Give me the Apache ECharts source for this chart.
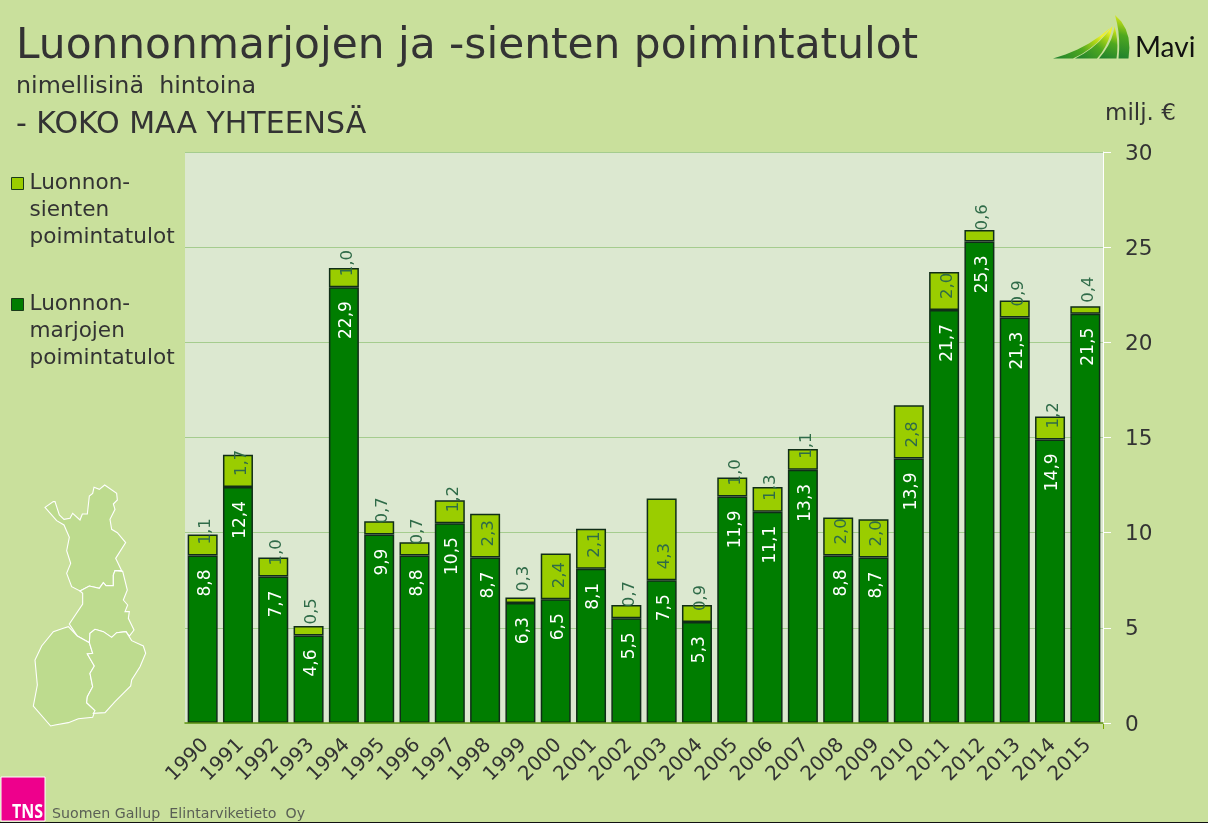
<!DOCTYPE html>
<html><head><meta charset="utf-8">
<style>html,body{margin:0;padding:0;background:#c9e09c}#c{width:1208px;height:823px}</style>
<script src="https://cdn.jsdelivr.net/npm/echarts@6/dist/echarts.min.js"></script>
</head><body><div id="c"></div>
<script>
const years = ['1990','1991','1992','1993','1994','1995','1996','1997','1998','1999','2000','2001','2002','2003','2004','2005','2006','2007','2008','2009','2010','2011','2012','2013','2014','2015'];
const berries = [8.8,12.4,7.7,4.6,22.9,9.9,8.8,10.5,8.7,6.3,6.5,8.1,5.5,7.5,5.3,11.9,11.1,13.3,8.8,8.7,13.9,21.7,25.3,21.3,14.9,21.5];
const mushrooms = [1.1,1.7,1.0,0.5,1.0,0.7,0.7,1.2,2.3,0.3,2.4,2.1,0.7,4.3,0.9,1.0,1.3,1.1,2.0,2.0,2.8,2.0,0.6,0.9,1.2,0.4];
const berryName = 'Luonnon-\nmarjojen\npoimintatulot';
const mushroomName = 'Luonnon-\nsienten\npoimintatulot';

const FONT = '"DejaVu Sans", Verdana, sans-serif';
const fmt = p => p.value.toFixed(1).replace('.', ',');

// decorative outline of Finland's regions (zoomed-crop pixel coordinates)
const regionShapes = [
 [[135,232],[160,215],[165,215],[178,255],[192,268],[210,265],[218,250],[240,270],[247,252],[262,252],[268,198],[278,190],[282,172],[298,178],[314,165],[350,190],[352,210],[340,222],[345,238],[330,268],[335,298],[352,308],[377,338],[347,385],[365,422],[345,422],[340,435],[340,467],[318,467],[310,458],[298,475],[268,468],[240,483],[215,470],[200,430],[212,400],[200,362],[208,322],[192,285],[170,272]],
 [[240,483],[268,468],[298,475],[310,458],[318,467],[340,467],[340,435],[345,422],[368,424],[382,480],[370,510],[383,525],[375,545],[388,545],[385,565],[402,600],[388,618],[378,605],[350,608],[335,622],[310,605],[285,598],[270,610],[268,638],[232,618],[208,582],[248,522],[248,490]],
 [[205,590],[232,618],[268,638],[278,670],[262,672],[283,708],[270,730],[278,770],[262,800],[260,818],[285,842],[278,862],[235,866],[205,878],[165,885],[152,888],[100,828],[112,765],[105,690],[125,648],[160,605],[190,595]],
 [[268,638],[270,610],[285,598],[310,605],[335,622],[350,608],[378,605],[395,632],[430,648],[437,670],[420,710],[395,750],[392,768],[360,800],[345,815],[315,848],[280,850],[285,842],[260,818],[262,800],[278,770],[270,730],[283,708],[262,672],[278,670]]
];
const regionGraphics = regionShapes.map(s => ({
  type:'polygon',
  shape:{points:s.map(p=>[p[0]/3,p[1]/3+430])},
  style:{fill:'#bddb8e',stroke:'#ffffff',lineWidth:1.1}
}));

// logo leaves: two quadratic curves closing along the baseline [start, ctrl, tip, ctrl, end]
const curve = (a,c,b) => [0,.2,.4,.6,.8,1].map(t=>[(1-t)*(1-t)*a[0]+2*t*(1-t)*c[0]+t*t*b[0],(1-t)*(1-t)*a[1]+2*t*(1-t)*c[1]+t*t*b[1]]);
const leaf = (a,c1,tip,c2,e) => ({type:'polygon',shape:{points:curve(a,c1,tip).concat(curve(tip,c2,e))},
  style:{fill:{type:'linear',x:0,y:1,x2:.75,y2:0,colorStops:[{offset:0,color:'#1c7f2e'},{offset:.55,color:'#4fa81f'},{offset:.85,color:'#b5d816'},{offset:1,color:'#eef030'}]}}});
const logoGraphics = [
  leaf([1053,58.5],[1085,50],[1110,28],[1096,48],[1073,58.5]),
  leaf([1075,58.5],[1097,48],[1112.5,26],[1109,45],[1097,58.5]),
  leaf([1099,58.5],[1113,42],[1114.5,26],[1119,42],[1116.5,58.5]),
  leaf([1118.5,58.5],[1121,35],[1115,15],[1133,30],[1128.5,58.5])
];

const chart = echarts.init(document.getElementById('c'),null,{renderer:'canvas'});
chart.setOption({
  animation:false,
  backgroundColor:'#c9e09c',
  textStyle:{fontFamily:FONT},
  title:[
    {text:'Luonnonmarjojen ja -sienten poimintatulot',left:16,top:26,padding:0,textStyle:{fontFamily:FONT,fontSize:42.3,fontWeight:'normal',color:'#333333'}},
    {text:'nimellisinä  hintoina',left:16,top:75,padding:0,textStyle:{fontFamily:FONT,fontSize:23.8,fontWeight:'normal',color:'#333333'}},
    {text:'- KOKO MAA YHTEENSÄ',left:16,top:110,padding:0,textStyle:{fontFamily:FONT,fontSize:30,fontWeight:'normal',color:'#333333'}},
    {text:'milj. €',left:1105,top:103,padding:0,textStyle:{fontFamily:FONT,fontSize:23,fontWeight:'normal',color:'#333333'}}
  ],
  legend:[
    {data:[mushroomName],left:11,top:116,orient:'vertical',padding:0,itemWidth:12,itemHeight:12,icon:'rect',
     formatter:n=>'\n\n'+n,
     itemStyle:{borderColor:'#1a3a1a',borderWidth:1},
     textStyle:{fontFamily:FONT,fontSize:21.6,lineHeight:27,color:'#333333',padding:[0,0,0,1]}},
    {data:[berryName],left:11,top:237,orient:'vertical',padding:0,itemWidth:12,itemHeight:12,icon:'rect',
     formatter:n=>'\n\n'+n,
     itemStyle:{borderColor:'#1a3a1a',borderWidth:1},
     textStyle:{fontFamily:FONT,fontSize:21.6,lineHeight:27,color:'#333333',padding:[0,0,0,1]}}
  ],
  grid:{left:185,right:105,top:152,bottom:100,show:true,backgroundColor:'#dce8d0',borderWidth:0},
  xAxis:{type:'category',data:years,z:5,
    axisLine:{lineStyle:{color:'#5f9410',width:1.5}},
    axisTick:{alignWithLabel:true,length:5,lineStyle:{color:'#7aa800'}},
    axisLabel:{rotate:45,fontFamily:FONT,fontSize:20,color:'#333333',margin:22,interval:0,align:'right',padding:[0,-4,0,0]}},
  yAxis:{type:'value',position:'right',min:0,max:30,interval:5,
    axisLine:{show:true,lineStyle:{color:'#ffffff',width:1}},
    axisTick:{show:true,length:8,lineStyle:{color:'#ffffff',width:1}},
    splitLine:{lineStyle:{color:'#a5cc8e',width:1}},
    axisLabel:{fontFamily:FONT,fontSize:21.6,lineHeight:22,color:'#333333',margin:22,verticalAlign:'top',padding:[-9,0,0,0]}},
  series:[
    {name:berryName,type:'bar',stack:'a',data:berries,barWidth:30,
     itemStyle:{color:'#007d00',borderColor:'#102d18',borderWidth:1.5},
     label:{show:true,position:'insideTop',distance:14,rotate:90,align:'right',verticalAlign:'middle',offset:[0,3],
            formatter:fmt,fontFamily:FONT,fontSize:17,color:'#ffffff'}},
    {name:mushroomName,type:'bar',stack:'a',data:mushrooms,barWidth:30,
     itemStyle:{color:'#9acd00',borderColor:'#102d18',borderWidth:1.5},
     label:{show:true,position:'insideBottom',distance:11,rotate:90,align:'left',verticalAlign:'middle',offset:[0,3.5],
            formatter:fmt,fontFamily:FONT,fontSize:16.5,color:'#2f6b48'}}
  ],
  graphic:[
    ...regionGraphics,
    ...logoGraphics,
    {type:'text',left:1135,top:34,style:{text:'Mavi',font:'28px Lato, sans-serif',fill:'#111111'}},
    {type:'rect',shape:{x:1,y:777,width:44,height:44},style:{fill:'#ee008c',stroke:'#ffffff',lineWidth:1}},
    {type:'text',x:12,y:822,scaleY:1.2,style:{text:'TNS',font:'bold 16px "Open Sans", sans-serif',fill:'#ffffff',verticalAlign:'bottom'}},
    {type:'text',left:52,top:807,style:{text:'Suomen Gallup  Elintarviketieto  Oy',font:'14.2px '+FONT,fill:'#5a5f55'}},
    {type:'line',shape:{x1:1103.5,y1:723,x2:1103.5,y2:729},style:{stroke:'#7aa800',lineWidth:1}},
    {type:'rect',shape:{x:0,y:822,width:1208,height:1},style:{fill:'#111111'}}
  ]
});
</script></body></html>
